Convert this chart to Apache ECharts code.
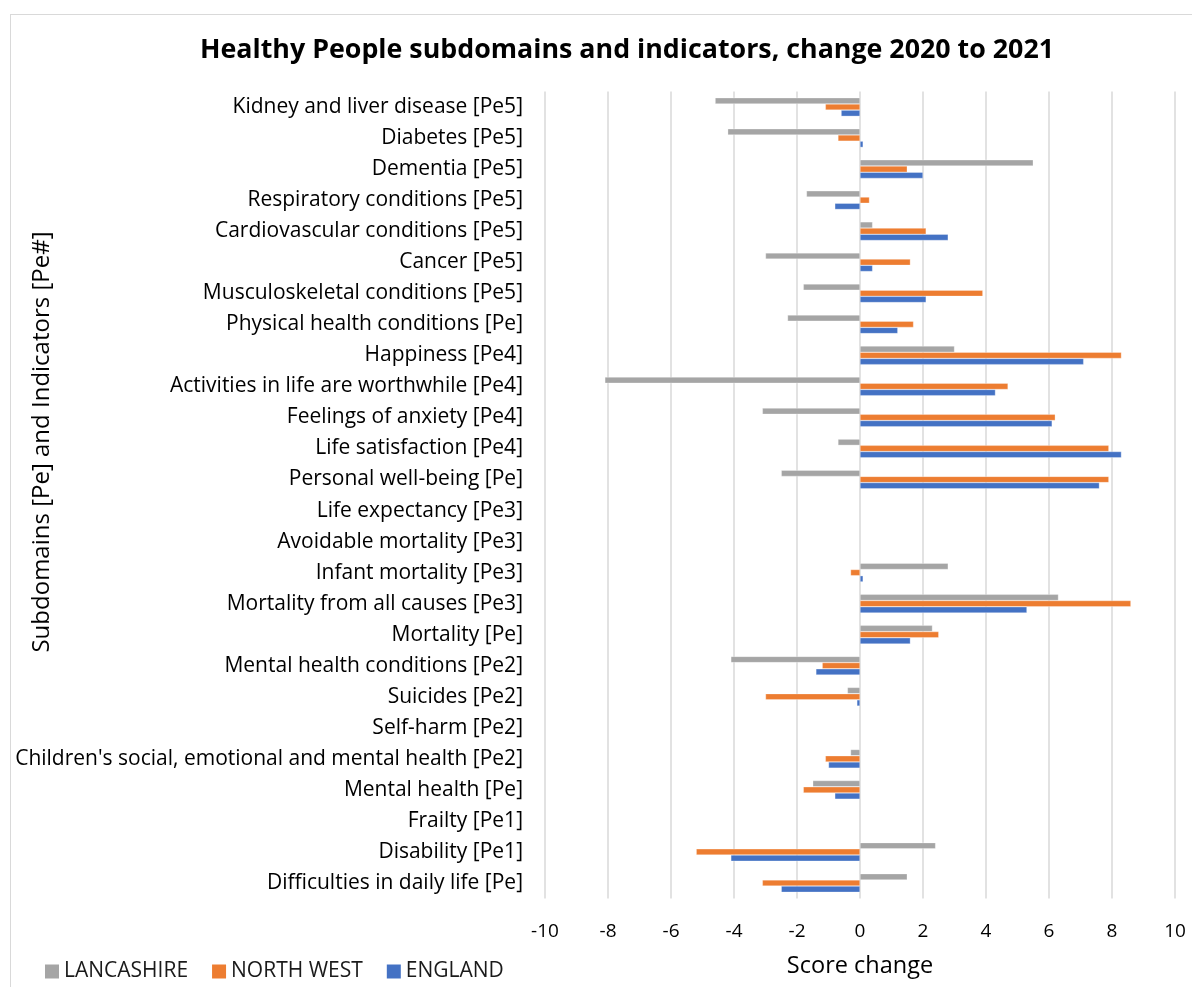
<!DOCTYPE html>
<html>
<head>
<meta charset="utf-8">
<script src="https://cdn.jsdelivr.net/npm/echarts@6/dist/echarts.min.js"></script>
<style>
  html, body { margin: 0; padding: 0; background: #fff; overflow: hidden; }
  #chart { width: 1192px; height: 987px; }
  .frame { position: absolute; left: 10px; top: 14px; width: 1300px; height: 1100px; border: 1px solid #d9d9d9; pointer-events: none; }
</style>
</head>
<body>
<div id="chart"></div>
<div class="frame"></div>
<script>
// categories, top to bottom as drawn
const categories = [
  'Kidney and liver disease [Pe5]',
  'Diabetes [Pe5]',
  'Dementia [Pe5]',
  'Respiratory conditions [Pe5]',
  'Cardiovascular conditions [Pe5]',
  'Cancer [Pe5]',
  'Musculoskeletal conditions [Pe5]',
  'Physical health conditions [Pe]',
  'Happiness [Pe4]',
  'Activities in life are worthwhile [Pe4]',
  'Feelings of anxiety [Pe4]',
  'Life satisfaction [Pe4]',
  'Personal well-being [Pe]',
  'Life expectancy [Pe3]',
  'Avoidable mortality [Pe3]',
  'Infant mortality [Pe3]',
  'Mortality from all causes [Pe3]',
  'Mortality [Pe]',
  'Mental health conditions [Pe2]',
  'Suicides [Pe2]',
  'Self-harm [Pe2]',
  "Children's social, emotional and mental health [Pe2]",
  'Mental health [Pe]',
  'Frailty [Pe1]',
  'Disability [Pe1]',
  'Difficulties in daily life [Pe]'
]

const lancashire = [-4.6, -4.2, 5.5, -1.7, 0.4, -3.0, -1.8, -2.3, 3.0, -8.1, -3.1, -0.7, -2.5, null, null, 2.8, 6.3, 2.3, -4.1, -0.4, null, -0.3, -1.5, null, 2.4, 1.5]
const northWest = [-1.1, -0.7, 1.5, 0.3, 2.1, 1.6, 3.9, 1.7, 8.3, 4.7, 6.2, 7.9, 7.9, null, null, -0.3, 8.6, 2.5, -1.2, -3.0, null, -1.1, -1.8, null, -5.2, -3.1]
const england = [-0.6, 0.1, 2.0, -0.8, 2.8, 0.4, 2.1, 1.2, 7.1, 4.3, 6.1, 8.3, 7.6, null, null, 0.1, 5.3, 1.6, -1.4, -0.1, null, -1.0, -0.8, null, -4.1, -2.5]

const xTicks = { min: -10, max: 10, step: 2 }

const font = '"Open Sans", sans-serif'

const chart = echarts.init(document.getElementById('chart'))

function barSeries(name, data, color) {
  return {
    name: name,
    type: 'bar',
    data: data,
    barGap: '0%',
    barCategoryGap: '40%',
    itemStyle: { color: color, borderColor: 'rgba(255,255,255,0.6)', borderWidth: 0.5 },
    animation: false
  }
}

const option = {
  textStyle: { fontFamily: font },
  title: {
    text: 'Healthy People subdomains and indicators, change 2020 to 2021',
    left: 195,
    top: 32,
    textStyle: { fontFamily: font, fontSize: 26.8, fontWeight: 'bold', color: '#000' }
  },
  legend: {
    left: 40,
    top: 956,
    icon: 'rect',
    itemWidth: 14,
    itemHeight: 14,
    itemGap: 24,
    itemStyle: { borderWidth: 0 },
    textStyle: { fontFamily: font, fontSize: 21, color: '#1a1a1a' },
    data: ['LANCASHIRE', 'NORTH WEST', 'ENGLAND']
  },
  grid: { left: 545, right: 17, top: 91.5, bottom: 88.5, containLabel: false },
  xAxis: {
    type: 'value',
    min: xTicks.min,
    max: xTicks.max,
    interval: xTicks.step,
    name: 'Score change',
    nameLocation: 'middle',
    nameGap: 56,
    nameTextStyle: { fontFamily: font, fontSize: 23.5, color: '#000' },
    axisLine: { show: false },
    axisTick: { show: false },
    axisLabel: { fontFamily: font, fontSize: 19, color: '#000', margin: 24 },
    splitLine: { show: true, lineStyle: { color: '#d9d9d9', width: 1.5 } }
  },
  yAxis: {
    type: 'category',
    inverse: true,
    data: categories,
    axisLine: { show: false },
    axisTick: { show: false },
    axisLabel: { fontFamily: font, fontSize: 21, color: '#000', margin: 22 },
    splitLine: { show: false }
  },
  graphic: [
    {
      type: 'text',
      x: 42,
      y: 442,
      rotation: Math.PI / 2,
      style: {
        text: 'Subdomains [Pe] and Indicators [Pe#]',
        font: '24px ' + font,
        fill: '#000',
        textAlign: 'center',
        textVerticalAlign: 'middle'
      }
    }
  ],
  series: [
    barSeries('LANCASHIRE', lancashire, '#a5a5a5'),
    barSeries('NORTH WEST', northWest, '#ed7d31'),
    barSeries('ENGLAND', england, '#4472c4')
  ]
}

chart.setOption(option)
window.addEventListener('resize', () => { chart.resize() })
</script>
</body>
</html>
